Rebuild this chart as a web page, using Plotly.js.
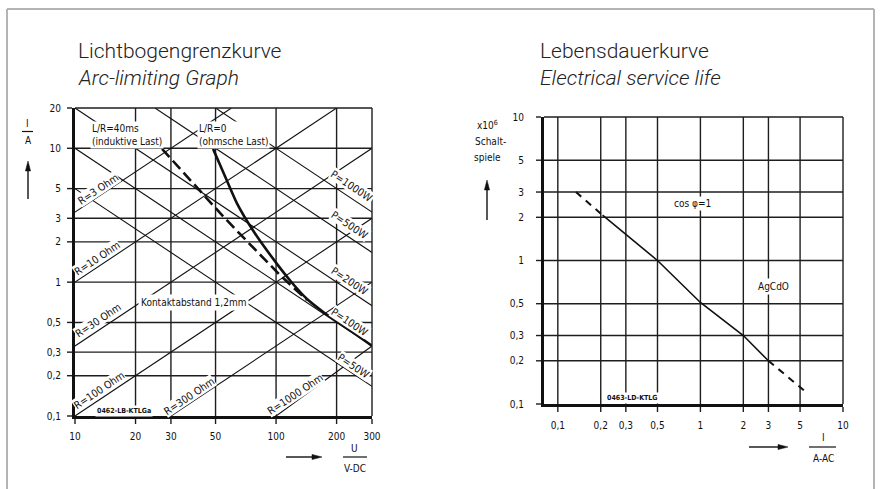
<!DOCTYPE html>
<html><head><meta charset="utf-8">
<script src="https://cdn.plot.ly/plotly-3.0.1.min.js"></script>
<style>
html,body{margin:0;padding:0;background:#fff;}
#chart{width:882px;height:489px;}
#chart .crisp{shape-rendering:auto !important;}
</style>
</head><body><div id="chart"></div>
<script>
// ---------- Left chart: Lichtbogengrenzkurve (arc-limiting graph) ----------
const arcXTicks = [10, 20, 30, 50, 100, 200, 300];
const arcXTickText = ['10', '20', '30', '50', '100', '200', '300'];
const arcYTicks = [0.1, 0.2, 0.3, 0.5, 1, 2, 3, 5, 10, 20];
const arcYTickText = ['0,1', '0,2', '0,3', '0,5', '1', '2', '3', '5', '10', '20'];

// constant-resistance lines (I = U/R), endpoints
const resistLabels = ['R=3 Ohm', 'R=10 Ohm', 'R=30 Ohm', 'R=100 Ohm', 'R=300 Ohm', 'R=1000 Ohm'];
const resistU = [[10, 60], [10, 200], [10, 300], [10, 300], [30, 300], [100, 300]];
const resistI = [[3.333, 20], [1, 20], [0.3333, 10], [0.1, 3], [0.1, 1], [0.1, 0.3333]];

// constant-power lines (I = P/U), endpoints
const powerLabels = ['P=1000W', 'P=500W', 'P=200W', 'P=100W', 'P=50W'];
const powerU = [[50, 300], [25, 300], [10, 300], [10, 300], [10, 300]];
const powerI = [[20, 3.333], [20, 1.667], [20, 0.6667], [10, 0.3333], [5, 0.1667]];

// L/R = 40 ms (inductive load), dashed
const inductiveU = [27.1, 33.3, 41.8, 52.6, 66.1, 83.2, 104.6, 127, 142.5];
const inductiveI = [9.9, 7.01, 4.80, 3.29, 2.29, 1.60, 1.13, 0.86, 0.736];
// L/R = 0 (ohmic load), solid
const ohmicU = [48.6, 55.1, 63.9, 77.7, 101, 120, 142.5, 169.1, 198.6, 244, 300];
const ohmicI = [9.9, 6.43, 3.88, 2.37, 1.37, 0.99, 0.749, 0.609, 0.513, 0.417, 0.334];

// ---------- Right chart: Lebensdauerkurve (electrical service life) ----------
const lifeXTicks = [0.1, 0.2, 0.3, 0.5, 1, 2, 3, 5, 10];
const lifeXTickText = ['0,1', '0,2', '0,3', '0,5', '1', '2', '3', '5', '10'];
const lifeYTicks = [0.1, 0.2, 0.3, 0.5, 1, 2, 3, 5, 10];
const lifeYTickText = ['0,1', '0,2', '0,3', '0,5', '1', '2', '3', '5', '10'];
const lifeSolidI = [0.206, 0.5, 1, 2, 3];
const lifeSolidN = [2.07, 1.0, 0.51, 0.3, 0.2];
const lifeDashLowI = [0.134, 0.206];
const lifeDashLowN = [3.0, 2.07];
const lifeDashHighI = [3, 5.35];
const lifeDashHighN = [0.2, 0.124];

// ---------- drawing ----------
const W = 882, H = 489;
const FONT = '"DejaVu Sans Condensed", "Liberation Sans Narrow", "DejaVu Sans", sans-serif';
const TFONT = 'Roboto, "Liberation Sans", sans-serif';
const INK = '#111';
const GRID = '#1e1e1e';
const ANG = Math.atan(133.85 / 201.1) * 180 / Math.PI;

const traces = [];
resistU.forEach((u, k) => traces.push({x: u, y: resistI[k], xaxis: 'x', yaxis: 'y', mode: 'lines',
  line: {color: INK, width: 1.1}, hoverinfo: 'skip', showlegend: false}));
powerU.forEach((u, k) => traces.push({x: u, y: powerI[k], xaxis: 'x', yaxis: 'y', mode: 'lines',
  line: {color: INK, width: 1.1}, hoverinfo: 'skip', showlegend: false}));
traces.push({x: inductiveU, y: inductiveI, xaxis: 'x', yaxis: 'y', mode: 'lines',
  line: {color: INK, width: 2.6, dash: '11px,5px'}, hoverinfo: 'skip', showlegend: false});
traces.push({x: ohmicU, y: ohmicI, xaxis: 'x', yaxis: 'y', mode: 'lines',
  line: {color: INK, width: 2.6, shape: 'spline', smoothing: 0.5}, hoverinfo: 'skip', showlegend: false});
traces.push({x: lifeSolidI, y: lifeSolidN, xaxis: 'x2', yaxis: 'y2', mode: 'lines',
  line: {color: INK, width: 1.6}, hoverinfo: 'skip', showlegend: false});
traces.push({x: lifeDashLowI, y: lifeDashLowN, xaxis: 'x2', yaxis: 'y2', mode: 'lines',
  line: {color: INK, width: 2, dash: '7px,6px'}, hoverinfo: 'skip', showlegend: false});
traces.push({x: lifeDashHighI, y: lifeDashHighN, xaxis: 'x2', yaxis: 'y2', mode: 'lines',
  line: {color: INK, width: 2, dash: '7px,6px'}, hoverinfo: 'skip', showlegend: false});

function logAxis(domain, range, tickvals, ticktext, anchor, standoff) {
  return {type: 'log', domain: domain, range: range, tickvals: tickvals, ticktext: ticktext, anchor: anchor,
    showgrid: true, gridcolor: GRID, gridwidth: 1.4, zeroline: false,
    showline: true, linecolor: INK, linewidth: 3,
    ticks: 'outside', ticklen: 5, tickwidth: 1.4, tickcolor: GRID,
    tickfont: {family: FONT, size: 10, color: INK}, ticklabelstandoff: standoff, fixedrange: true};
}

function px(x) { return x / W; }
function py(y) { return 1 - y / H; }
function txt(text, x, y, opts) {
  return Object.assign({xref: 'paper', yref: 'paper', x: px(x), y: py(y), text: text, showarrow: false,
    xanchor: 'center', yanchor: 'middle', font: {family: FONT, size: 10, color: INK}}, opts || {});
}
function seg(x0, y0, x1, y1, color, width) {
  return {type: 'line', xref: 'paper', yref: 'paper', x0: px(x0), y0: py(y0), x1: px(x1), y1: py(y1),
    line: {color: color, width: width}};
}
// arrow as shaft + filled head (head at hx,hy)
function arrowShapes(hx, hy, tx, ty) {
  const dx = tx - hx, dy = ty - hy, len = Math.hypot(dx, dy);
  const ux = dx / len, uy = dy / len, hl = 10, hw = 2.6;
  const bx = hx + ux * hl, by = hy + uy * hl;
  const p1 = [bx - uy * hw, by + ux * hw], p2 = [bx + uy * hw, by - ux * hw];
  const path = 'M' + px(hx) + ',' + py(hy) + ' L' + px(p1[0]) + ',' + py(p1[1]) +
    ' L' + px(p2[0]) + ',' + py(p2[1]) + ' Z';
  return [seg(bx, by, tx, ty, INK, 1.4),
    {type: 'path', xref: 'paper', yref: 'paper', path: path, fillcolor: INK, line: {color: INK, width: 0.5}}];
}

const WHITE = 'rgba(255,255,255,1)';
const rPos = [[98, 189], [97, 258], [98, 320], [99, 390], [189, 396], [295, 394]];
const pPos = [[352, 186], [350, 225], [350, 281], [350, 322], [354, 366]];
const TSTYLE = {family: TFONT, size: 21, color: '#222', weight: 300};

const annotations = [
  // titles
  txt('Lichtbogengrenzkurve', 76, 51, {xanchor: 'left', font: TSTYLE}),
  txt('<i>Arc-limiting Graph</i>', 76, 78, {xanchor: 'left', font: TSTYLE}),
  txt('Lebensdauerkurve', 538, 51, {xanchor: 'left', font: TSTYLE}),
  txt('<i>Electrical service life</i>', 538, 78, {xanchor: 'left', font: TSTYLE}),
  // left axis labels
  txt('I', 27, 124), txt('A', 28, 140),
  txt('U', 354, 448), txt('V-DC', 355, 468),
  // right axis labels
  txt('x10<sup>6</sup>', 487, 125), txt('Schalt-', 490, 142), txt('spiele', 487, 157),
  txt('I', 823, 437), txt('A-AC', 823, 458),
  // left chart texts
  txt('L/R=40ms<br>(induktive Last)', 90, 134.5, {xanchor: 'left', align: 'left', bgcolor: WHITE, borderpad: 1}),
  txt('L/R=0<br>(ohmsche Last)', 197, 134.5, {xanchor: 'left', align: 'left', bgcolor: WHITE, borderpad: 1}),
  txt('Kontaktabstand 1,2mm', 193, 302, {bgcolor: WHITE, borderpad: 2}),
  txt('<b>0462-LB-KTLGa</b>', 95, 411, {xanchor: 'left', bgcolor: WHITE, borderpad: 1,
    font: {family: FONT, size: 7, color: INK}}),
  // right chart texts
  txt('cos φ=1', 692, 203, {bgcolor: WHITE, borderpad: 1}),
  txt('AgCdO', 773, 286, {bgcolor: WHITE, borderpad: 2}),
  txt('<b>0463-LD-KTLG</b>', 605, 398, {xanchor: 'left', bgcolor: WHITE, borderpad: 1,
    font: {family: FONT, size: 7, color: INK}})
];
resistLabels.forEach((t, k) => annotations.push(txt(t, rPos[k][0], rPos[k][1],
  {textangle: -ANG, bgcolor: WHITE, borderpad: 0, font: {family: FONT, size: 10.5, color: INK}})));
powerLabels.forEach((t, k) => annotations.push(txt(t, pPos[k][0], pPos[k][1],
  {textangle: ANG, bgcolor: WHITE, borderpad: 0, font: {family: FONT, size: 10.5, color: INK}})));

const shapes = [
  // outer frame
  seg(7, 9, 874, 9, '#b4b4b4', 2), seg(7, 9, 7, 495, '#b4b4b4', 2), seg(874, 9, 874, 495, '#b4b4b4', 2),
  // plot borders (top/right)
  seg(75, 108, 372, 108, GRID, 1.4), seg(372, 108, 372, 416, GRID, 1.4),
  seg(544, 117, 843, 117, GRID, 1.4), seg(843, 117, 843, 404, GRID, 1.4),
  // fraction bars of axis labels
  seg(22, 131.5, 33, 131.5, INK, 1.2), seg(343, 457, 367, 457, INK, 1.2), seg(809, 447, 836, 447, INK, 1.2)
].concat(arrowShapes(28, 161, 28, 199), arrowShapes(322, 457, 286, 457),
         arrowShapes(487, 180, 487, 220), arrowShapes(788, 447, 749, 447));

const layout = {
  width: W, height: H, margin: {l: 0, r: 0, t: 0, b: 0},
  paper_bgcolor: '#fff', plot_bgcolor: 'rgba(0,0,0,0)', showlegend: false,
  xaxis: logAxis([75 / W, 372 / W], [1, Math.log10(300)], arcXTicks, arcXTickText, 'y', 4),
  yaxis: logAxis([1 - 416 / H, 1 - 108 / H], [-1, Math.log10(20)], arcYTicks, arcYTickText, 'x', 4),
  xaxis2: logAxis([544 / W, 843 / W], [Math.log10(0.08), 1], lifeXTicks, lifeXTickText, 'y2', 5),
  yaxis2: logAxis([1 - 404 / H, 1 - 117 / H], [-1, 1], lifeYTicks, lifeYTickText, 'x2', 10),
  annotations: annotations, shapes: shapes
};

Plotly.newPlot('chart', traces, layout, {staticPlot: true, displayModeBar: false});
</script></body></html>
